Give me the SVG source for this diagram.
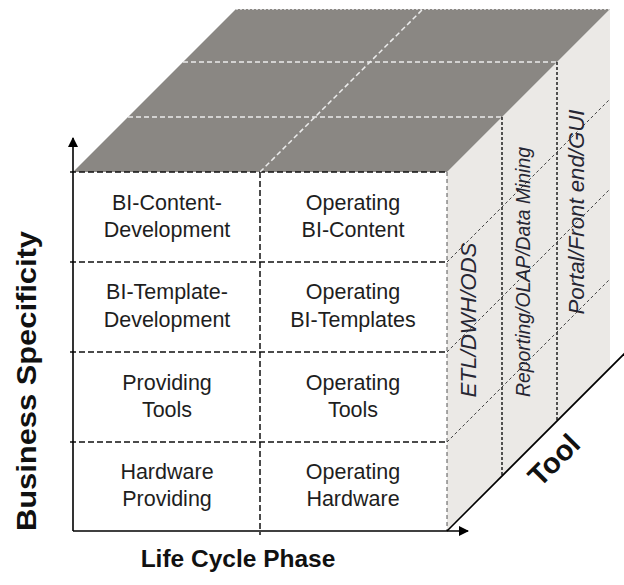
<svg xmlns="http://www.w3.org/2000/svg" width="624" height="585" viewBox="0 0 624 585">
  <style>
    .cell { font-family: "Liberation Sans", Arial, sans-serif; font-size: 21.5px; fill: #1e1e1e; text-anchor: middle; }
    .axis-label { font-family: "Liberation Sans", Arial, sans-serif; font-weight: bold; fill: #111; text-anchor: middle; }
    .tool-label { font-family: "Liberation Sans", Arial, sans-serif; font-style: italic; fill: #262633; text-anchor: middle; }
    .grid { stroke: #111; stroke-width: 1.5; stroke-dasharray: 6 3; fill: none; }
    .edge { stroke: #555; stroke-width: 1; stroke-dasharray: 4 3; fill: none; }
    .side-v { stroke: #111; stroke-width: 1.4; stroke-dasharray: 3 2; fill: none; }
    .side-d { stroke: #444; stroke-width: 1; stroke-dasharray: 3 2.5; fill: none; }
    .top-d { stroke: #ececec; stroke-width: 1.5; stroke-dasharray: 5 3; fill: none; }
    .axis { stroke: #000; stroke-width: 1.6; fill: none; }
  </style>
  <defs>
    <marker id="arrow" viewBox="0 0 10 10" refX="9" refY="5" markerWidth="10" markerHeight="10" markerUnits="userSpaceOnUse" orient="auto">
      <path d="M0,0 L10,5 L0,10 Z" fill="#000"/>
    </marker>
  </defs>

  <g id="cube-faces">
    <polygon id="side-face" points="447,172 610,9 610,368 447,531" fill="#ebe9e6"/>
    <polygon id="top-face" points="73,172 236,9 610,9 447,172" fill="#8a8783"/>
    <rect id="front-face" x="73" y="172" width="374" height="359" fill="#ffffff"/>
    <line x1="236" y1="9.5" x2="610" y2="9.5" stroke="#cfcfcf" stroke-width="1" stroke-dasharray="2 2"/>
  </g>

  <g id="grid">
    <line class="grid" x1="70" y1="172" x2="447" y2="172"/>
    <line class="grid" x1="70" y1="262" x2="447" y2="262"/>
    <line class="grid" x1="70" y1="352" x2="447" y2="352"/>
    <line class="grid" x1="70" y1="442" x2="447" y2="442"/>
    <line class="grid" x1="260" y1="172" x2="260" y2="535"/>
    <line class="edge" x1="447" y1="172" x2="447" y2="531"/>
    <line class="side-v" x1="502" y1="117" x2="502" y2="476"/>
    <line class="side-v" x1="557" y1="62" x2="557" y2="421"/>
    <line class="side-d" x1="447" y1="262" x2="610" y2="99"/>
    <line class="side-d" x1="447" y1="352" x2="610" y2="189"/>
    <line class="side-d" x1="447" y1="442" x2="610" y2="279"/>
    <line class="top-d" x1="128" y1="117" x2="502" y2="117"/>
    <line class="top-d" x1="183" y1="62" x2="557" y2="62"/>
    <line class="top-d" x1="260" y1="172" x2="423" y2="9"/>
  </g>

  <g id="bi-content-development">
    <text class="cell" x="167" y="210">BI-Content-</text>
    <text class="cell" x="167" y="237">Development</text>
  </g>
  <g id="operating-bi-content">
    <text class="cell" x="353" y="210">Operating</text>
    <text class="cell" x="353" y="237">BI-Content</text>
  </g>
  <g id="bi-template-development">
    <text class="cell" x="167" y="299">BI-Template-</text>
    <text class="cell" x="167" y="327">Development</text>
  </g>
  <g id="operating-bi-templates">
    <text class="cell" x="353" y="299">Operating</text>
    <text class="cell" x="353" y="327">BI-Templates</text>
  </g>
  <g id="providing-tools">
    <text class="cell" x="167" y="390">Providing</text>
    <text class="cell" x="167" y="417">Tools</text>
  </g>
  <g id="operating-tools">
    <text class="cell" x="353" y="390">Operating</text>
    <text class="cell" x="353" y="417">Tools</text>
  </g>
  <g id="hardware-providing">
    <text class="cell" x="167" y="479">Hardware</text>
    <text class="cell" x="167" y="506">Providing</text>
  </g>
  <g id="operating-hardware">
    <text class="cell" x="353" y="479">Operating</text>
    <text class="cell" x="353" y="506">Hardware</text>
  </g>

  <g id="tool-etl">
    <text class="tool-label" font-size="21.5" transform="translate(476,320) rotate(-90)" textLength="155" lengthAdjust="spacingAndGlyphs">ETL/DWH/ODS</text>
  </g>
  <g id="tool-reporting">
    <text class="tool-label" font-size="19.5" transform="translate(530,272) rotate(-90)" textLength="250" lengthAdjust="spacingAndGlyphs">Reporting/OLAP/Data Mining</text>
  </g>
  <g id="tool-portal">
    <text class="tool-label" font-size="21.5" transform="translate(584,212) rotate(-90)" textLength="205" lengthAdjust="spacingAndGlyphs">Portal/Front end/GUI</text>
  </g>

  <g id="connectors">
    <line id="axis-business" class="axis" x1="73" y1="531" x2="73" y2="138" marker-end="url(#arrow)"/>
    <line id="axis-lifecycle" class="axis" x1="73" y1="531" x2="468" y2="531" marker-end="url(#arrow)"/>
    <line id="axis-tool" class="axis" x1="447" y1="531" x2="632" y2="346"/>
  </g>

  <g id="label-business-specificity">
    <text class="axis-label" font-size="28" transform="translate(36,381) rotate(-90)" textLength="300" lengthAdjust="spacingAndGlyphs">Business Specificity</text>
  </g>
  <g id="label-life-cycle-phase">
    <text class="axis-label" font-size="24.5" x="238" y="567">Life Cycle Phase</text>
  </g>
  <g id="label-tool">
    <text class="axis-label" font-size="29" transform="translate(561,467) rotate(-45)">Tool</text>
  </g>
</svg>
